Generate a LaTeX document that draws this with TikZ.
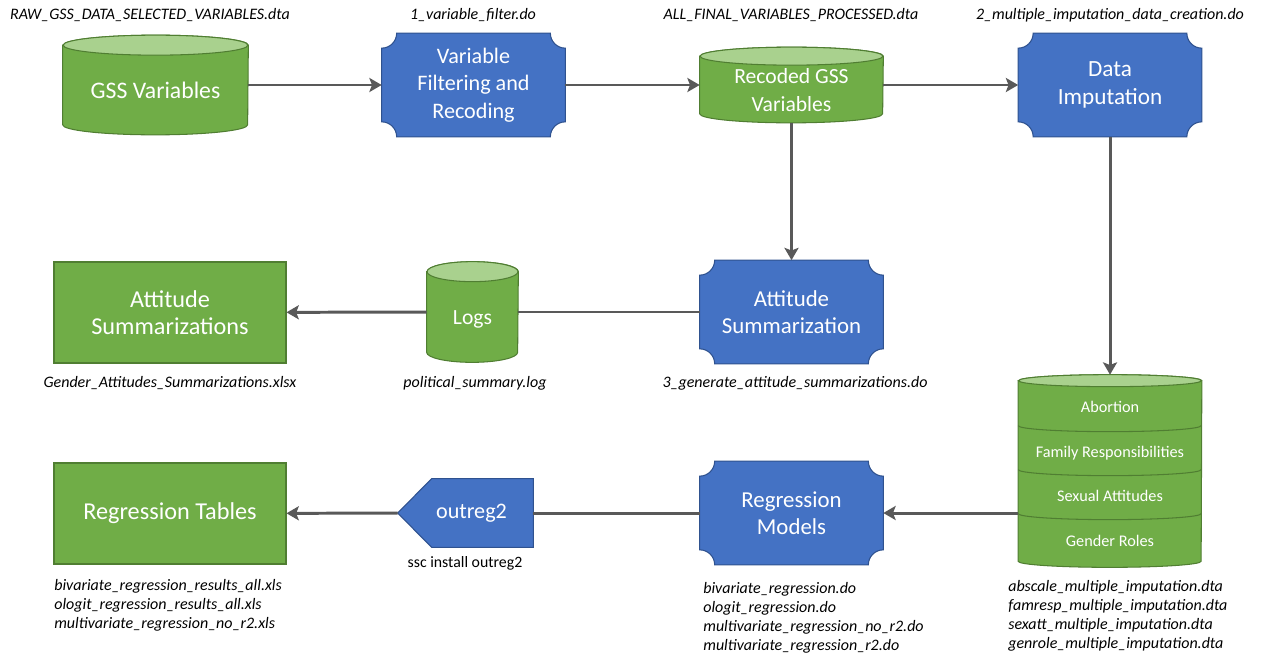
\documentclass[tikz,border=0pt]{standalone}
\usepackage{fontspec}
\setmainfont{Carlito}
\usetikzlibrary{arrows.meta,calc,backgrounds}
\definecolor{boxgreen}{HTML}{70AD47}
\definecolor{edgegreen}{HTML}{507E32}
\definecolor{topgreen}{HTML}{A9D18E}
\definecolor{boxblue}{HTML}{4472C4}
\definecolor{edgeblue}{HTML}{2F528F}
\definecolor{flowgray}{HTML}{595959}
\tikzset{
  boxtext/.style={font=\fontsize{#1}{15.5}\selectfont, text=white, align=center, inner sep=0pt},
  boxtext/.default=12.3,
  file/.style={font=\fontsize{9.1}{10.8}\selectfont\itshape, inner sep=0pt, align=left},
  outbox/.style={boxtext=13.8, fill=boxgreen, draw=edgegreen, line width=0.6pt, minimum width=4.64cm, minimum height=2.02cm},
  procbox/.style={boxtext=#1, minimum width=3.66cm, minimum height=2.06cm},
}
\begin{document}
\begin{tikzpicture}[x=0.02cm,y=-0.02cm]
  \useasboundingbox (0,0) rectangle (1264,666);
  % data stores and steps
  \node[boxtext=13.5, text height=15pt, text depth=0.2pt, minimum width=3.7cm, minimum height=1.98cm] (gss) at (155.5,85) {GSS Variables};
  \node[procbox=12.6] (filt) at (473.5,85) {Variable\\Filtering and\\Recoding};
  \node[boxtext, text height=30pt, text depth=0.2pt, minimum width=3.66cm, minimum height=1.5cm] (rec) at (791.5,85) {Recoded GSS\\Variables};
  \node[procbox=13.2] (imput) at (1110,85) {Data\\Imputation};
  \node[procbox=13] (summ) at (791.5,312) {Attitude\\Summarization};
  \node[boxtext, text height=14.8pt, text depth=0.2pt, minimum width=1.82cm, minimum height=2cm] (logs) at (472.5,312) {Logs};
  \node[outbox] (summs) at (170,312.5) {Attitude\\Summarizations};
  \node[boxtext, font=\fontsize{9.25}{25.3}\selectfont, text height=85.7pt, text depth=0pt, minimum width=3.66cm, minimum height=3.84cm] (imp) at (1110,471)
    {Abortion\\Family Responsibilities\\Sexual Attitudes\\Gender Roles};
  \node[procbox=13] (regr) at (791.5,513) {Regression\\Models};
  \node[boxtext=12.6, minimum width=2.7cm, minimum height=1.36cm] (outreg) at (465.5,513) {\hspace*{0.24cm}outreg2};
  \node[outbox] (tables) at (170,513.5) {Regression Tables};

  % file names
  \node[file] (rawfile) at (150,15) {RAW\_GSS\_DATA\_SELECTED\_VARIABLES.dta};
  \node[file] (filtfile) at (473,15) {1\_variable\_filter.do};
  \node[file] (allfile) at (791,15) {ALL\_FINAL\_VARIABLES\_PROCESSED.dta};
  \node[file] (impfile) at (1110,15) {2\_multiple\_imputation\_data\_creation.do};
  \node[file] (xlsxfile) at (170,383) {Gender\_Attitudes\_Summarizations.xlsx};
  \node[file] (logfile) at (475,383) {political\_summary.log};
  \node[file] (summfile) at (795,383) {3\_generate\_attitude\_summarizations.do};
  \node[inner sep=0pt, font=\fontsize{9}{11}\selectfont] (ssc) at (465,563) {ssc install outreg2};
  \node[file, anchor=west] (xlsfiles) at (54,605)
    {bivariate\_regression\_results\_all.xls\\ologit\_regression\_results\_all.xls\\multivariate\_regression\_no\_r2.xls};
  \node[file, anchor=west] (dofiles) at (703,617.5)
    {bivariate\_regression.do\\ologit\_regression.do\\multivariate\_regression\_no\_r2.do\\multivariate\_regression\_r2.do};
  \node[file, anchor=west] (dtafiles) at (1008,615.5)
    {abscale\_multiple\_imputation.dta\\famresp\_multiple\_imputation.dta\\sexatt\_multiple\_imputation.dta\\genrole\_multiple\_imputation.dta};

  \begin{scope}[on background layer]
    % cylinders
    \foreach \n/\rx/\ry in {gss/1.85/0.2, rec/1.83/0.18, logs/0.91/0.2, imp/1.83/0.12} {
      \filldraw[fill=boxgreen, draw=edgegreen, line width=0.6pt]
        ($(\n.north west)+(0,-\ry cm)$) -- ($(\n.south west)+(0,\ry cm)$)
        arc[start angle=180, end angle=360, x radius=\rx cm, y radius=\ry cm]
        -- ($(\n.north east)+(0,-\ry cm)$)
        arc[start angle=0, end angle=180, x radius=\rx cm, y radius=\ry cm] -- cycle;
      \filldraw[fill=topgreen, draw=edgegreen, line width=0.6pt]
        ($(\n.north)+(0,-\ry cm)$) ellipse[x radius=\rx cm, y radius=\ry cm];
    }
    \foreach \d in {1.02,1.9,2.78}
      \draw[edgegreen, line width=0.6pt] ($(imp.north west)+(0,-\d cm)$)
        arc[start angle=180, end angle=360, x radius=1.83cm, y radius=0.12cm];
    % steps with cut corners
    \foreach \n in {filt,imput,summ,regr} {
      \filldraw[fill=boxblue, draw=edgeblue, line width=0.6pt]
        ($(\n.north west)+(0.3cm,0)$) -- ($(\n.north east)+(-0.3cm,0)$)
        arc[start angle=180, end angle=270, radius=0.3cm]
        -- ($(\n.south east)+(0,0.3cm)$)
        arc[start angle=90, end angle=180, radius=0.3cm]
        -- ($(\n.south west)+(0.3cm,0)$)
        arc[start angle=0, end angle=90, radius=0.3cm]
        -- ($(\n.north west)+(0,-0.3cm)$)
        arc[start angle=270, end angle=360, radius=0.3cm] -- cycle;
    }
    \filldraw[fill=boxblue, draw=edgeblue, line width=0.6pt]
      (outreg.north east) -- (outreg.south east) -- ($(outreg.south west)+(0.68cm,0)$)
      -- (outreg.west) -- ($(outreg.north west)+(0.68cm,0)$) -- cycle;
  \end{scope}

  \begin{scope}[draw=flowgray, line width=1.7pt, -{Stealth[length=7pt, width=8pt, inset=1.5pt]}]
    \draw (gss) -- (filt);
    \draw (filt) -- (rec);
    \draw (rec) -- (imput);
    \draw (rec) -- (summ);
    \draw (imput) -- (imp);
    \draw[-] (summ) -- (logs);
    \draw (logs) -- (summs);
    \draw (imp.west |- regr) -- (regr);
    \draw[-] (regr) -- (outreg);
    \draw (outreg) -- (tables);
  \end{scope}
\end{tikzpicture}
\end{document}
